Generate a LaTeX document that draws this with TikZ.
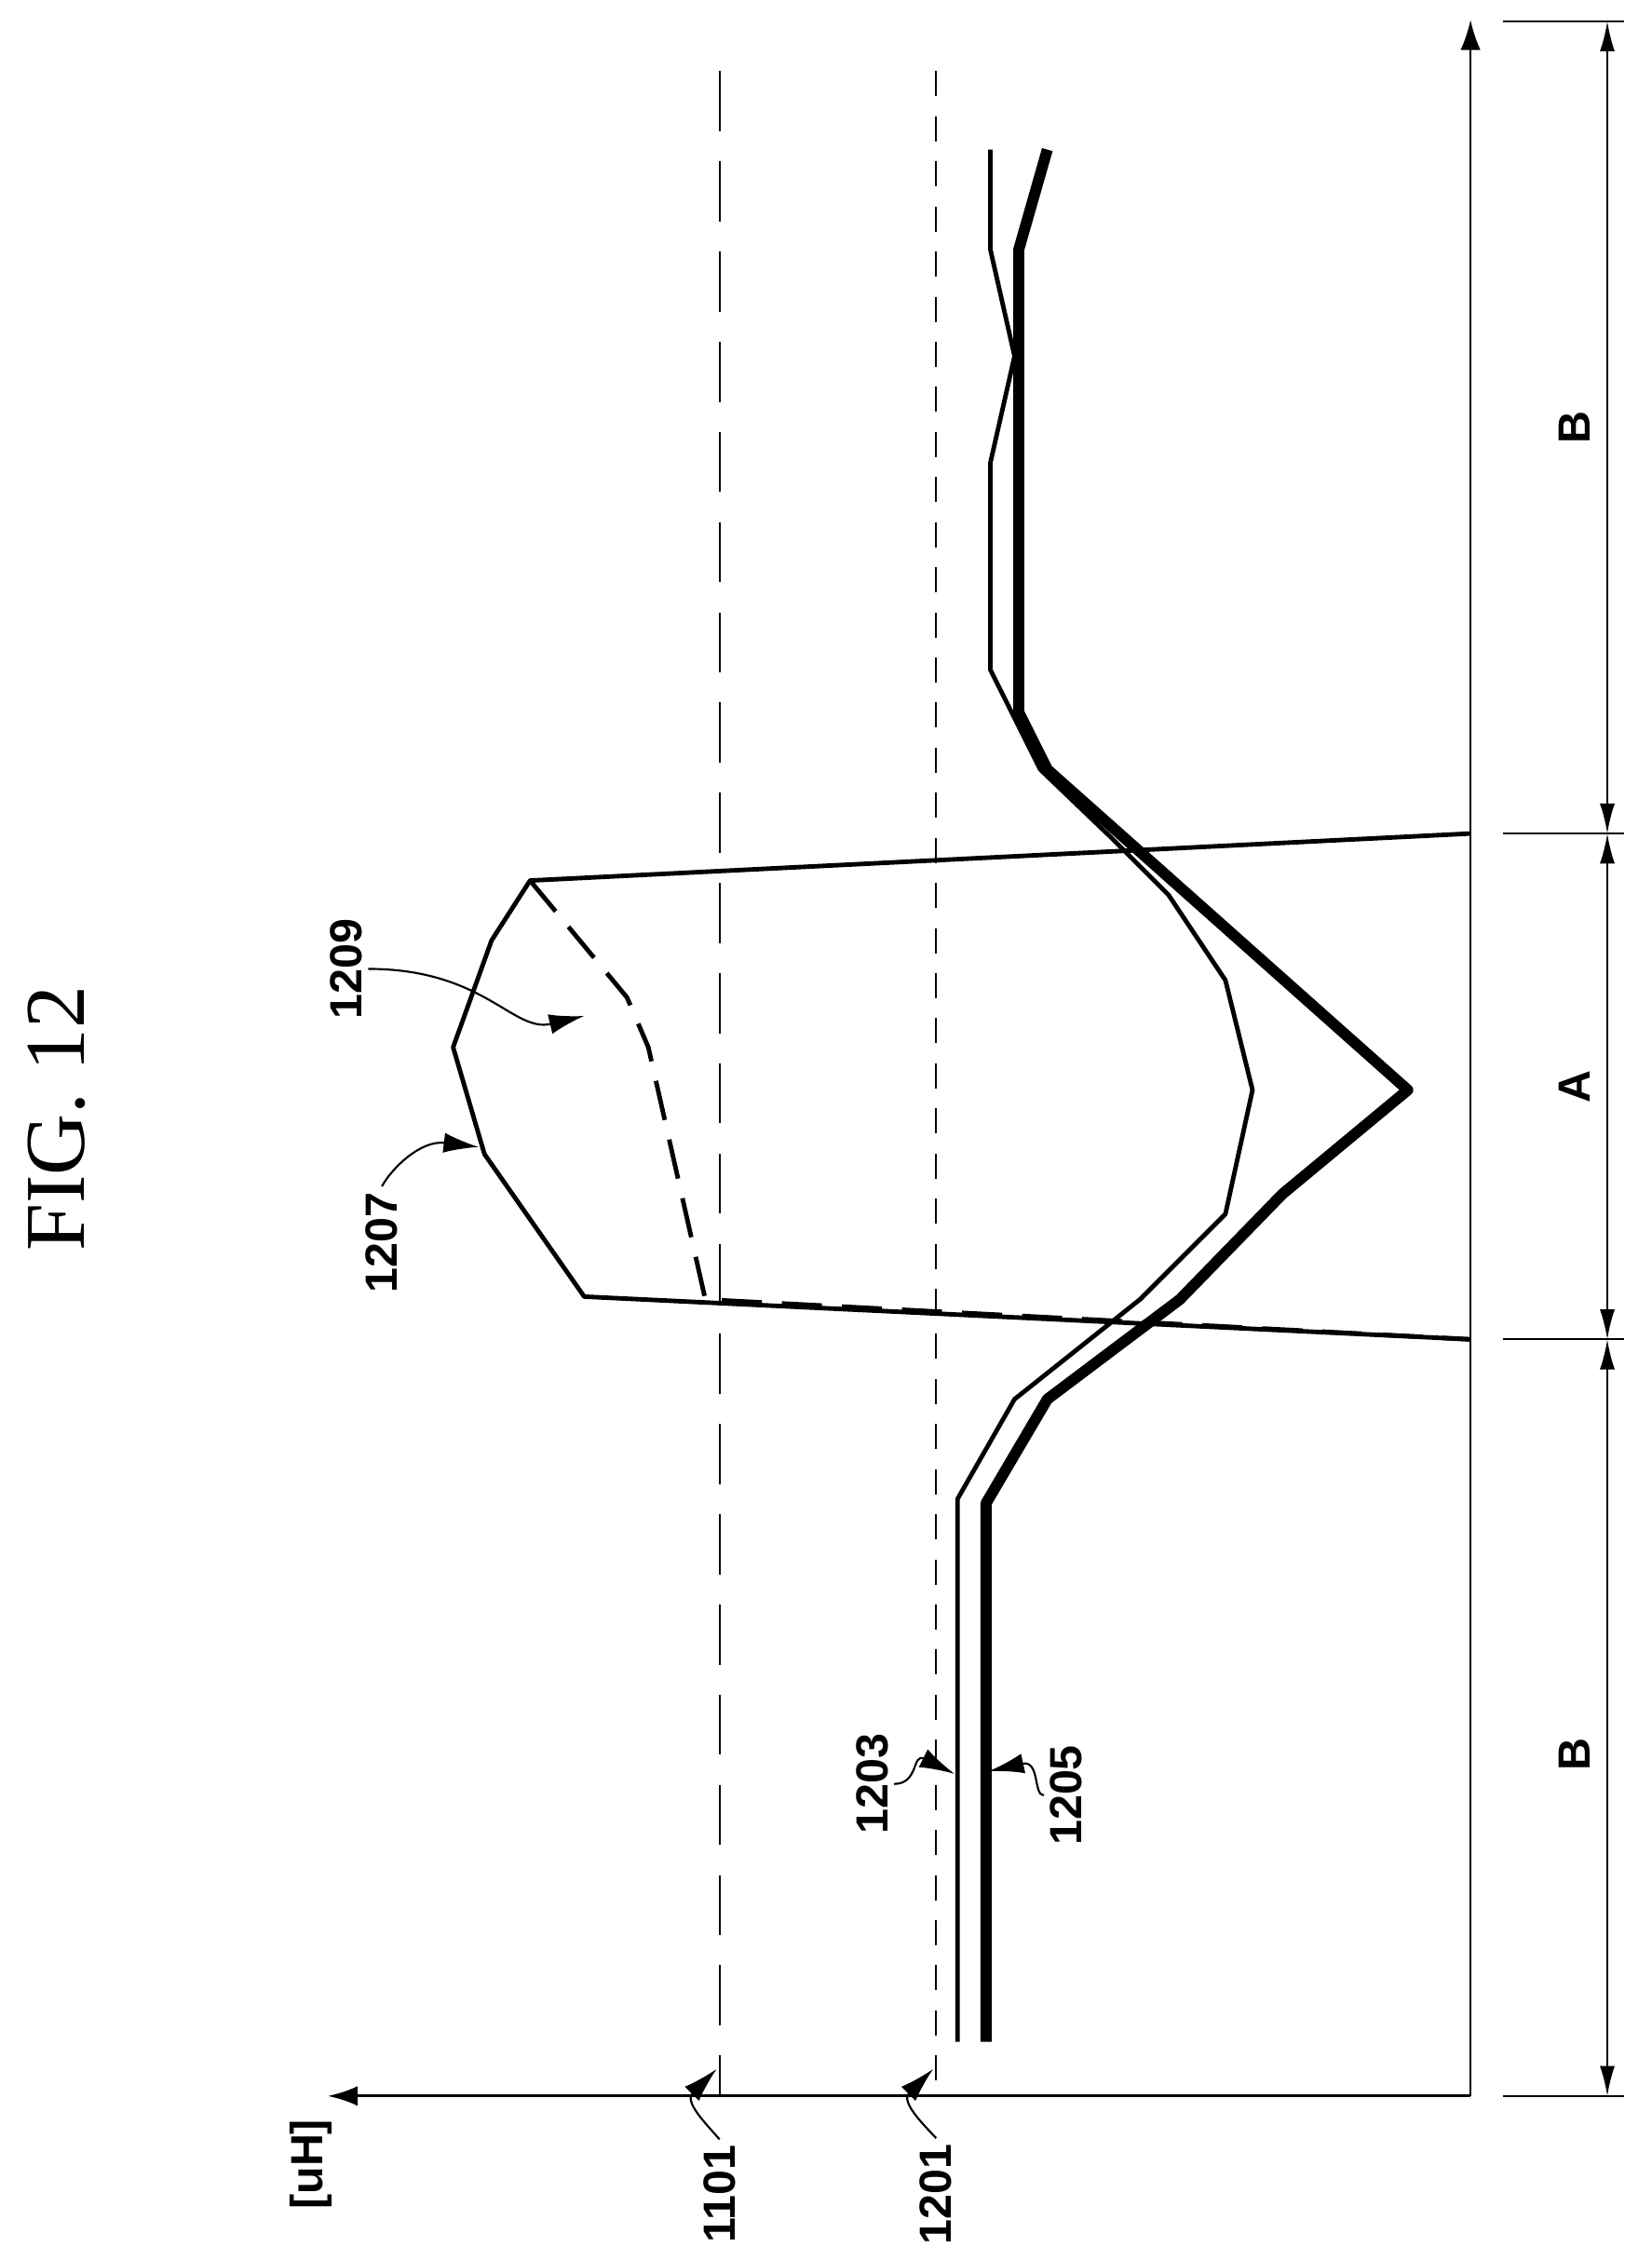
\documentclass[tikz,border=0pt]{standalone}
\usepackage{fontspec}
\setmainfont{Liberation Serif}
\newfontfamily\labelfont{Liberation Sans}
\usetikzlibrary{arrows.meta}
\tikzstyle{lbl} = [font=\labelfont\bfseries\fontsize{9}{9}\selectfont, rotate=90, inner sep=1pt]
\tikzstyle{arrow} = [-{Latex[length=6pt,width=4pt]}]
\tikzstyle{leader} = [thin,-{Latex[length=7pt,width=4pt]}]
\tikzstyle{thinline} = [line width=0.9pt]
\tikzstyle{thickline} = [line width=2.2pt]
\begin{document}
\begin{tikzpicture}[x=0.01cm, y=-0.01cm, line join=round]
    \useasboundingbox (0,0) rectangle (1159,1577);
    % Title and axes
    \node [rotate=90, font=\fontsize{17}{17}\selectfont] (title) at (40,785) {FIG.\ 12};
    \coordinate (origin) at (1032,1471);
    \coordinate (xend) at (1032,14);
    \coordinate (yend) at (230,1471);
    \draw [arrow] (origin) -- (xend);
    \draw [arrow, semithick] (origin) -- (yend);
    \node [lbl] (unit) at (218,1519) {[uH]};
    % Reference lines
    \coordinate (r1a) at (505,50);
    \coordinate (r1b) at (505,1471);
    \coordinate (r2a) at (657,50);
    \coordinate (r2b) at (657,1471);
    \draw [dash pattern=on 12pt off 6pt] (r1a) -- (r1b);
    \draw [dash pattern=on 5pt off 4pt] (r2a) -- (r2b);
    \node [lbl] (n1101) at (505,1540) {1101};
    \node [lbl] (n1201) at (657,1540) {1201};
    \draw [leader] (n1101.east) .. controls (495,1490) and (480,1475) .. (503,1452);
    \draw [leader] (n1201.east) .. controls (647,1490) and (632,1475) .. (655,1452);
    % Region ticks
    \foreach \t in {15,585,940,1471} \draw (1055,\t) -- (1140,\t);
    \draw [{Latex[length=6pt,width=3pt]}-{Latex[length=6pt,width=3pt]}] (1128,15) -- (1128,585);
    \draw [{Latex[length=6pt,width=3pt]}-{Latex[length=6pt,width=3pt]}] (1128,585) -- (1128,940);
    \draw [{Latex[length=6pt,width=3pt]}-{Latex[length=6pt,width=3pt]}] (1128,940) -- (1128,1471);
    \node [lbl] (b1) at (1105,300) {B};
    \node [lbl] (a) at (1105,763) {A};
    \node [lbl] (b2) at (1105,1231) {B};
    % Curves 1203 and 1205
    \draw [thinline] (672,1433) -- (672,1052) -- (712,982) -- (800,912) -- (860,852) -- (879,765)
        -- (860,688) -- (820,628) -- (780,588) -- (730,540) -- (695,470) -- (695,325) -- (712,250)
        -- (695,175) -- (695,105);
    \draw [thickline] (692,1433) -- (692,1055) -- (735,982) -- (828,912) -- (900,838) -- (988,765)
        -- (735,540) -- (715,500) -- (715,175) -- (735,105);
    % Curves 1207 and 1209
    \draw [thinline] (1032,585) -- (372,618) -- (345,660) -- (318,735) -- (340,810) -- (410,910) -- (1032,940);
    \draw [thinline, dash pattern=on 8pt off 4pt] (372,618) -- (440,700) -- (455,735) -- (495,912) -- (1032,940);
    \node [lbl] (n1207) at (268,872) {1207};
    \node [lbl] (n1209) at (243,680) {1209};
    \node [lbl] (n1203) at (612,1252) {1203};
    \node [lbl] (n1205) at (748,1260) {1205};
    \draw [leader] (n1207.east) .. controls (275,820) and (295,800) .. (336,805);
    \draw [leader] (n1209.south) .. controls (340,680) and (360,725) .. (410,713);
    \draw [leader] (n1203.south) .. controls (645,1252) and (640,1230) .. (670,1245);
    \draw [leader] (n1205.north) .. controls (725,1260) and (730,1235) .. (694,1243);
\end{tikzpicture}
\end{document}
